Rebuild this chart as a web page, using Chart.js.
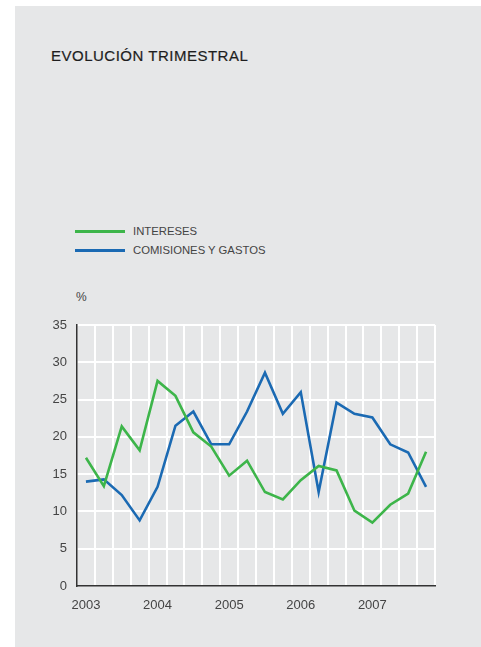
<!DOCTYPE html>
<html>
<head>
<meta charset="utf-8">
<script src="https://cdn.jsdelivr.net/npm/chart.js@4"></script>
<style>
  body { margin: 0; background: #fff; font-family: "Liberation Sans", Arial, Helvetica, sans-serif; }
  #wrap { position: relative; width: 481px; height: 647px; }
  #panel { position: absolute; left: 15px; top: 6px; width: 466px; height: 641px; background: #e6e7e8; }
  #title { position: absolute; left: 51px; top: 48px; font-size: 15px; line-height: 15px; color: #1e1e1e; letter-spacing: 0.5px; -webkit-text-stroke: 0.2px #1e1e1e; }
  .leg { position: absolute; left: 75px; font-size: 11.3px; line-height: 11px; color: #444; }
  .leg span { display: inline-block; width: 50px; height: 3px; vertical-align: middle; margin-right: 8px; position: relative; top: -1px; }
  #unit { position: absolute; left: 76px; top: 291px; font-size: 12px; line-height: 12px; color: #444; }
  canvas { position: absolute; left: 0; top: 0; }
</style>
</head>
<body>
<div id="wrap">
  <div id="panel"></div>
  <div id="title">EVOLUCIÓN TRIMESTRAL</div>
  <div id="legend"></div>
  <div id="unit">%</div>
  <canvas id="chart" width="481" height="647"></canvas>
</div>
<script>
// datos trimestrales (%)
const years = ['2003', '2004', '2005', '2006', '2007'];
const intereses = [17.2, 13.4, 21.4, 18.2, 27.5, 25.5, 20.6, 18.7, 14.8, 16.8,
                   12.6, 11.6, 14.2, 16.1, 15.5, 10.1, 8.5, 10.9, 12.4, 18.0];
const comisiones = [14.0, 14.3, 12.2, 8.8, 13.3, 21.5, 23.4, 19.0, 19.0, 23.4,
                    28.6, 23.1, 26.0, 12.6, 24.6, 23.1, 22.6, 19.0, 17.9, 13.3];
const seriesNames = ['INTERESES', 'COMISIONES Y GASTOS'];
const seriesColors = ['#3db54a', '#1b6ab3'];
const yTicks = [0, 5, 10, 15, 20, 25, 30, 35];

// una etiqueta por trimestre, solo el primero lleva el año
const quarters = years.flatMap(y => [y, '', '', '']);

// leyenda en html
const legend = document.getElementById('legend');
seriesNames.forEach((name, i) => {
    const d = document.createElement('div');
    d.className = 'leg';
    d.style.top = (226 + i * 19) + 'px';
    d.innerHTML = '<span style="background:' + seriesColors[i] + '"></span>' + name;
    legend.appendChild(d);
});

const tickFont = { family: '"Liberation Sans", Arial, Helvetica, sans-serif', size: 13 };

new Chart(document.getElementById('chart').getContext('2d'), {
    type: 'line',
    data: {
        labels: quarters,
        datasets: [
            { label: seriesNames[0], data: intereses, borderColor: seriesColors[0] },
            { label: seriesNames[1], data: comisiones, borderColor: seriesColors[1] }
        ]
    },
    options: {
        responsive: false,
        animation: false,
        layout: { padding: { left: 0, right: 46, top: 325, bottom: 0 } },
        elements: {
            line: { borderWidth: 2.6, tension: 0, fill: false },
            point: { radius: 0 }
        },
        plugins: { legend: { display: false }, tooltip: { enabled: false } },
        scales: {
            x: {
                offset: true,
                grid: {
                    offset: true,
                    color: ctx => ctx.index === 0 ? 'rgba(0,0,0,0)' : '#ffffff',
                    lineWidth: 2,
                    drawTicks: false
                },
                border: { display: true, color: '#333', width: 1.5 },
                ticks: { autoSkip: false, maxRotation: 0, padding: 12, color: '#444', font: tickFont },
                afterFit: s => { s.height = 61; }
            },
            y: {
                min: 0,
                max: 35,
                afterBuildTicks: s => { s.ticks = yTicks.map(v => ({ value: v })); },
                grid: {
                    color: ctx => ctx.index === 0 ? 'rgba(0,0,0,0)' : '#ffffff',
                    lineWidth: 2,
                    drawTicks: false
                },
                border: { display: true, color: '#333', width: 1.5 },
                ticks: { padding: 10, color: '#444', font: tickFont },
                afterFit: s => { s.width = 77; }
            }
        }
    }
});
</script>
</body>
</html>
